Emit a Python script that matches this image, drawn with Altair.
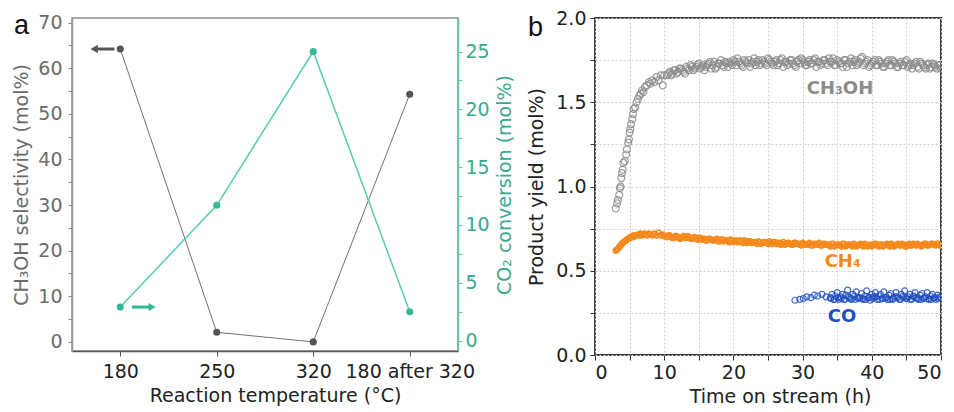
import json
import altair as alt
import pandas as pd

# ---------------- data: panel a ----------------
TEMPS = ["180", "250", "320", "180 after 320"]
SELECTIVITY = [64.2, 2.1, 0.0, 54.3]      # CH3OH selectivity (mol%)
CONVERSION = [2.9, 11.7, 25.0, 2.5]       # CO2 conversion (mol%)

# ---------------- data: panel b ----------------
T_EARLY = [3.0, 3.2, 3.3, 3.5, 3.6, 3.7, 3.8, 3.9, 4.0, 4.1, 4.3, 4.5, 4.6, 4.8, 4.9,
           5.0, 5.1, 5.2, 5.4, 5.5, 5.6, 5.8, 6.0, 6.2, 6.4, 6.6, 6.8, 7.0, 7.2, 7.5,
           7.8, 8.0, 8.3, 8.6, 8.9, 9.2, 9.5, 9.8, 10.0]
T_LATE = [10.4, 10.8, 11.2, 11.6, 12.0, 12.4, 12.8, 13.2, 13.6, 14.0, 14.4, 14.8, 15.2,
          15.6, 16.0, 16.4, 16.8, 17.2, 17.6, 18.0, 18.4, 18.8, 19.2, 19.6, 20.0, 20.4,
          20.8, 21.2, 21.6, 22.0, 22.4, 22.8, 23.2, 23.6, 24.0, 24.4, 24.8, 25.2, 25.6,
          26.0, 26.4, 26.8, 27.2, 27.6, 28.0, 28.4, 28.8, 29.2, 29.6, 30.0, 30.4, 30.8,
          31.2, 31.6, 32.0, 32.4, 32.8, 33.2, 33.6, 34.0, 34.4, 34.8, 35.2, 35.6, 36.0,
          36.4, 36.8, 37.2, 37.6, 38.0, 38.4, 38.8, 39.2, 39.6, 40.0, 40.4, 40.8, 41.2,
          41.6, 42.0, 42.4, 42.8, 43.2, 43.6, 44.0, 44.4, 44.8, 45.2, 45.6, 46.0, 46.4,
          46.8, 47.2, 47.6, 48.0, 48.4, 48.8, 49.2, 49.6, 50.0]
T_LATE2 = [10.6, 11.0, 11.4, 11.8, 12.2, 12.6, 13.0, 13.4, 13.8, 14.2,
           14.6, 15.0, 15.4, 15.8, 16.2, 16.6, 17.0, 17.4, 17.8, 18.2,
           18.6, 19.0, 19.4, 19.8, 20.2, 20.6, 21.0, 21.4, 21.8, 22.2,
           22.6, 23.0, 23.4, 23.8, 24.2, 24.6, 25.0, 25.4, 25.8, 26.2,
           26.6, 27.0, 27.4, 27.8, 28.2, 28.6, 29.0, 29.4, 29.8, 30.2,
           30.6, 31.0, 31.4, 31.8, 32.2, 32.6, 33.0, 33.4, 33.8, 34.2,
           34.6, 35.0, 35.4, 35.8, 36.2, 36.6, 37.0, 37.4, 37.8, 38.2,
           38.6, 39.0, 39.4, 39.8, 40.2, 40.6, 41.0, 41.4, 41.8, 42.2,
           42.6, 43.0, 43.4, 43.8, 44.2, 44.6, 45.0, 45.4, 45.8, 46.2,
           46.6, 47.0, 47.4, 47.8, 48.2, 48.6, 49.0, 49.4, 49.8]

CH3OH_EARLY = [0.87, 0.90, 0.92, 0.95, 0.99, 1.00, 1.05, 1.08, 1.10, 1.14, 1.15, 1.19, 1.22,
               1.26, 1.28, 1.32, 1.34, 1.37, 1.40, 1.43, 1.46, 1.47, 1.50, 1.52, 1.54, 1.55,
               1.57, 1.56, 1.59, 1.60, 1.62, 1.61, 1.63, 1.62, 1.65, 1.63, 1.66, 1.60, 1.66]
CH3OH_LATE = [1.66, 1.68, 1.67, 1.69, 1.68, 1.70, 1.68, 1.71, 1.69, 1.71, 1.70, 1.72, 1.70,
              1.72, 1.71, 1.73, 1.70, 1.74, 1.71, 1.73, 1.72, 1.74, 1.71, 1.73, 1.75, 1.72,
              1.74, 1.72, 1.75, 1.73, 1.71, 1.74, 1.72, 1.75, 1.73, 1.74, 1.72, 1.75, 1.73,
              1.74, 1.72, 1.75, 1.71, 1.74, 1.73, 1.75, 1.72, 1.74, 1.73, 1.75, 1.72, 1.74,
              1.73, 1.75, 1.71, 1.74, 1.73, 1.75, 1.72, 1.74, 1.76, 1.72, 1.74, 1.73, 1.75,
              1.71, 1.74, 1.72, 1.75, 1.73, 1.76, 1.72, 1.74, 1.71, 1.73, 1.75, 1.72, 1.74,
              1.71, 1.73, 1.75, 1.72, 1.74, 1.71, 1.73, 1.72, 1.74, 1.71, 1.73, 1.72, 1.74,
              1.70, 1.73, 1.71, 1.72, 1.70, 1.73, 1.71, 1.72, 1.70]
CH3OH_LATE2 = [1.67, 1.66, 1.69, 1.67, 1.70, 1.69, 1.67, 1.70, 1.72, 1.69,
               1.71, 1.73, 1.71, 1.69, 1.72, 1.74, 1.72, 1.70, 1.73, 1.75,
               1.71, 1.73, 1.74, 1.72, 1.74, 1.76, 1.73, 1.71, 1.74, 1.75,
               1.73, 1.76, 1.74, 1.72, 1.75, 1.73, 1.76, 1.74, 1.72, 1.75,
               1.73, 1.76, 1.74, 1.72, 1.75, 1.73, 1.71, 1.75, 1.76, 1.74,
               1.72, 1.75, 1.73, 1.76, 1.74, 1.72, 1.75, 1.73, 1.76, 1.74,
               1.72, 1.75, 1.73, 1.71, 1.75, 1.73, 1.76, 1.74, 1.72, 1.74,
               1.77, 1.73, 1.75, 1.72, 1.74, 1.72, 1.75, 1.73, 1.71, 1.74,
               1.72, 1.75, 1.73, 1.71, 1.74, 1.72, 1.75, 1.72, 1.70, 1.73,
               1.71, 1.74, 1.72, 1.70, 1.73, 1.71, 1.72, 1.70, 1.72]

CH4_EARLY = [0.62, 0.625, 0.63, 0.64, 0.645, 0.65, 0.655, 0.66, 0.665, 0.67, 0.675, 0.68,
             0.685, 0.69, 0.69, 0.695, 0.70, 0.70, 0.705, 0.70, 0.71, 0.705, 0.71, 0.715,
             0.71, 0.72, 0.71, 0.715, 0.72, 0.71, 0.72, 0.715, 0.71, 0.72, 0.71, 0.725,
             0.71, 0.715, 0.705]
CH4_LATE = [0.70, 0.71, 0.695, 0.705, 0.70, 0.69, 0.705, 0.695, 0.70, 0.69, 0.70, 0.685,
            0.695, 0.69, 0.68, 0.69, 0.685, 0.68, 0.69, 0.675, 0.685, 0.68, 0.675, 0.685,
            0.67, 0.68, 0.675, 0.67, 0.68, 0.665, 0.675, 0.67, 0.665, 0.675, 0.66, 0.67,
            0.665, 0.675, 0.66, 0.67, 0.665, 0.655, 0.67, 0.66, 0.665, 0.655, 0.665, 0.66,
            0.655, 0.665, 0.655, 0.66, 0.65, 0.66, 0.655, 0.665, 0.65, 0.66, 0.655, 0.645,
            0.66, 0.65, 0.655, 0.645, 0.66, 0.65, 0.655, 0.645, 0.655, 0.65, 0.66, 0.645,
            0.655, 0.65, 0.645, 0.66, 0.65, 0.655, 0.645, 0.655, 0.65, 0.66, 0.645, 0.655,
            0.65, 0.66, 0.645, 0.655, 0.65, 0.66, 0.65, 0.655, 0.645, 0.66, 0.65, 0.655,
            0.66, 0.65, 0.66, 0.655]
CH4_LATE2 = [0.71, 0.70, 0.695, 0.705, 0.69, 0.70, 0.695, 0.705, 0.69, 0.695,
             0.69, 0.695, 0.685, 0.69, 0.68, 0.69, 0.68, 0.685, 0.675, 0.685,
             0.675, 0.68, 0.67, 0.68, 0.675, 0.67, 0.68, 0.665, 0.67, 0.675,
             0.665, 0.67, 0.66, 0.67, 0.665, 0.67, 0.66, 0.665, 0.67, 0.66,
             0.665, 0.66, 0.655, 0.665, 0.66, 0.655, 0.665, 0.66, 0.65, 0.66,
             0.655, 0.665, 0.65, 0.66, 0.655, 0.65, 0.66, 0.655, 0.65, 0.66,
             0.645, 0.655, 0.65, 0.66, 0.645, 0.655, 0.65, 0.66, 0.645, 0.655,
             0.65, 0.66, 0.645, 0.655, 0.65, 0.66, 0.645, 0.655, 0.65, 0.66,
             0.645, 0.655, 0.65, 0.66, 0.65, 0.655, 0.645, 0.66, 0.65, 0.655,
             0.66, 0.65, 0.655, 0.66, 0.65, 0.66, 0.655, 0.66, 0.65]

T_CO = [28.9, 29.6, 30.1, 30.6, 31.2, 31.7, 32.2, 32.8, 33.4,
        34.0, 34.25, 34.5, 34.75, 35.0, 35.25, 35.5, 35.75, 36.0, 36.25, 36.5, 36.75,
        37.0, 37.25, 37.5, 37.75, 38.0, 38.25, 38.5, 38.75, 39.0, 39.25, 39.5, 39.75,
        40.0, 40.25, 40.5, 40.75, 41.0, 41.25, 41.5, 41.75, 42.0, 42.25, 42.5, 42.75,
        43.0, 43.25, 43.5, 43.75, 44.0, 44.25, 44.5, 44.75, 45.0, 45.25, 45.5, 45.75,
        46.0, 46.25, 46.5, 46.75, 47.0, 47.25, 47.5, 47.75, 48.0, 48.25, 48.5, 48.75,
        49.0, 49.25, 49.5, 49.75, 50.0]
CO = [0.325, 0.33, 0.335, 0.345, 0.34, 0.355, 0.35, 0.36, 0.345,
      0.34, 0.36, 0.33, 0.35, 0.37, 0.33, 0.345, 0.36, 0.33, 0.355,
      0.385, 0.34, 0.33, 0.36, 0.35, 0.375, 0.335, 0.34, 0.365, 0.33,
      0.35, 0.38, 0.34, 0.325, 0.36, 0.345, 0.37, 0.33, 0.35, 0.36,
      0.335, 0.375, 0.34, 0.33, 0.355, 0.365, 0.33, 0.345, 0.37, 0.34,
      0.33, 0.36, 0.35, 0.38, 0.335, 0.345, 0.36, 0.33, 0.35, 0.37,
      0.34, 0.33, 0.355, 0.365, 0.335, 0.345, 0.37, 0.33, 0.35, 0.36,
      0.34, 0.33, 0.355, 0.345, 0.34]
T_CO2 = [34.1, 34.6, 35.1, 35.6, 36.1, 36.6, 37.1, 37.6, 38.1, 38.6, 39.1, 39.6, 40.1,
         40.6, 41.1, 41.6, 42.1, 42.6, 43.1, 43.6, 44.1, 44.6, 45.1, 45.6, 46.1, 46.6,
         47.1, 47.6, 48.1, 48.6, 49.1, 49.6]
CO2 = [0.335, 0.33, 0.34, 0.335, 0.33, 0.345, 0.335, 0.33, 0.34, 0.335,
       0.33, 0.34, 0.335, 0.345, 0.33, 0.335, 0.34, 0.33, 0.335, 0.345,
       0.33, 0.34, 0.335, 0.33, 0.345, 0.335, 0.33, 0.34, 0.335, 0.33,
       0.34, 0.335]

SERIES_LABELS = ["CH₃OH", "CH₄", "CO"]

# ---------------- styling ----------------
FONT = "DejaVu Sans"
LAB_FS = 19
TIT_FS = 19
GRAY_DOT = "#555555"
GRAY_LINE = "#707070"
GRAY_TXT = "#6b6b6b"
TEAL = "#34b894"
TEAL_LINE = "#55cdae"
TEAL_TXT = "#3aa98b"
C_MEOH = "#8c8c8c"
C_CH4 = "#f5891c"
C_CO = "#2350c0"

T_MAIN = T_EARLY + T_LATE + T_LATE2
MEOH_ALL = CH3OH_EARLY + CH3OH_LATE + CH3OH_LATE2
CH4_ALL = CH4_EARLY + CH4_LATE + CH4_LATE2
assert len(T_MAIN) == len(MEOH_ALL) == len(CH4_ALL), (len(T_MAIN), len(MEOH_ALL), len(CH4_ALL))
assert len(T_CO) == len(CO) and len(T_CO2) == len(CO2)

# ================= panel a =================
dfa = pd.DataFrame({"idx": list(range(len(TEMPS))), "sel": SELECTIVITY, "conv": CONVERSION})

lab_expr = json.dumps(TEMPS) + "[datum.value]"
x_a_axis = alt.Axis(values=list(range(len(TEMPS))), labelExpr=lab_expr,
                    title="Reaction temperature (°C)", grid=False, titleX=203,
                    domainColor="#555555", domainWidth=1.5, tickColor="#555555",
                    tickSize=5, labelColor="#222222", titleColor="#222222",
                    labelFontSize=LAB_FS, titleFontSize=TIT_FS, labelPadding=6, titlePadding=5,
                    labelFont=FONT, titleFont=FONT, titleFontWeight="normal")
x_a_scale = alt.Scale(domain=[-0.5, 3.5], nice=False, zero=False)

sel_scale = alt.Scale(domain=[-2, 71], nice=False, zero=False)
sel_axis = alt.Axis(values=list(range(0, 71, 5)),
                    labelExpr="datum.value % 10 == 0 ? datum.label : ''",
                    title="CH₃OH selectivity (mol%)", grid=False,
                    domainColor="#9a9a9a", domainWidth=1.5, tickColor="#8a8a8a", tickSize=4,
                    labelColor=GRAY_TXT, titleColor=GRAY_TXT, labelFontSize=LAB_FS,
                    titleFontSize=TIT_FS, labelPadding=6, titlePadding=6,
                    labelFont=FONT, titleFont=FONT, titleFontWeight="normal")

conv_scale = alt.Scale(domain=[-0.9, 27.9], nice=False, zero=False)
conv_axis = alt.Axis(orient="right", values=[0, 2.5, 5, 7.5, 10, 12.5, 15, 17.5, 20, 22.5, 25],
                     labelExpr="datum.value % 5 == 0 ? datum.label : ''",
                     title="CO₂ conversion (mol%)", grid=False, titleAngle=270,
                     titleBaseline="top",
                     domainColor=TEAL_LINE, domainWidth=1.5, tickColor=TEAL_LINE, tickSize=4,
                     labelColor=TEAL_TXT, titleColor=TEAL_TXT, labelFontSize=LAB_FS,
                     titleFontSize=TIT_FS, labelPadding=3, titlePadding=6,
                     labelFont=FONT, titleFont=FONT, titleFontWeight="normal")

xa = alt.X("idx:Q", scale=x_a_scale, axis=x_a_axis)
xa2 = alt.X2("idx2:Q")
y_sel = alt.Y("sel:Q", scale=sel_scale, axis=sel_axis)
y_conv = alt.Y("conv:Q", scale=conv_scale, axis=conv_axis)

base_a = alt.Chart(dfa)
gray_line = base_a.mark_line(color=GRAY_LINE, strokeWidth=1).encode(x=xa, y=y_sel)
gray_pts = base_a.mark_circle(color=GRAY_DOT, size=50, opacity=1).encode(x=xa, y=y_sel)

# direction arrows (annotations)
arrow_gray = pd.DataFrame({"idx": [-0.25], "idx2": [-0.06], "sel": [SELECTIVITY[0]]})
arrow_gray_head = pd.DataFrame({"idx": [-0.27], "sel": [SELECTIVITY[0]]})
arrow_teal = pd.DataFrame({"idx": [0.12], "idx2": [0.31], "conv": [CONVERSION[0]]})
arrow_teal_head = pd.DataFrame({"idx": [0.33], "conv": [CONVERSION[0]]})

ag_rule = alt.Chart(arrow_gray).mark_rule(color=GRAY_DOT, strokeWidth=3).encode(x=xa, x2=xa2, y=y_sel)
ag_head = alt.Chart(arrow_gray_head).mark_point(shape="triangle-left", filled=True, size=70,
                                                color=GRAY_DOT, opacity=1).encode(x=xa, y=y_sel)

panel_label_a = alt.Chart(pd.DataFrame({"t": ["a"]})).mark_text(
    font="Liberation Sans", fontSize=27, align="left", baseline="alphabetic", color="#111111"
).encode(text="t:N", x=alt.value(-58), y=alt.value(16))

gray_layer = alt.layer(gray_line, gray_pts, ag_rule, ag_head, panel_label_a)

teal_line = base_a.mark_line(color=TEAL_LINE, strokeWidth=1.5).encode(x=xa, y=y_conv)
teal_pts = base_a.mark_circle(color=TEAL, size=50, opacity=1).encode(x=xa, y=y_conv)
at_rule = alt.Chart(arrow_teal).mark_rule(color=TEAL, strokeWidth=3).encode(x=xa, x2=xa2, y=y_conv)
at_head = alt.Chart(arrow_teal_head).mark_point(shape="triangle-right", filled=True, size=70,
                                                color=TEAL, opacity=1).encode(x=xa, y=y_conv)
teal_layer = alt.layer(teal_line, teal_pts, at_rule, at_head)

panel_a = alt.layer(gray_layer, teal_layer).resolve_scale(y="independent").properties(
    width=386, height=333,
    view=alt.ViewBackground(stroke="#8c8c8c", strokeWidth=1.5),
)

# ================= panel b =================
df_meoh = pd.DataFrame({"t": T_MAIN, "v": MEOH_ALL})
df_ch4 = pd.DataFrame({"t": T_MAIN, "v": CH4_ALL})
df_co = pd.DataFrame({"t": T_CO + T_CO2, "v": CO + CO2})
df_lab = pd.DataFrame({"t": [35.4, 35.8, 35.7], "v": [1.58, 0.55, 0.225],
                       "lab": SERIES_LABELS})

xb = alt.X("t:Q", scale=alt.Scale(domain=[0, 50], nice=False),
           axis=alt.Axis(values=list(range(0, 51, 5)),
                         labelExpr="datum.value % 10 == 0 ? datum.label : ''",
                         title="Time on stream (h)", grid=True, gridDash=[2, 2], titleX=185,
                         gridColor="#cfcfcf", gridWidth=1, domain=False,
                         tickColor="#333333", tickSize=5, labelColor="#222222",
                         titleColor="#222222", labelFontSize=LAB_FS, titleFontSize=TIT_FS,
                         labelPadding=3, titlePadding=5, labelFont=FONT, titleFont=FONT,
                         titleFontWeight="normal"))
yb = alt.Y("v:Q", scale=alt.Scale(domain=[0, 2], nice=False),
           axis=alt.Axis(values=[0, 0.25, 0.5, 0.75, 1.0, 1.25, 1.5, 1.75, 2.0],
                         labelExpr="datum.value % 0.5 == 0 ? format(datum.value, '.1f') : ''",
                         title="Product yield (mol%)", grid=True, gridDash=[2, 2],
                         gridColor="#cfcfcf", gridWidth=1, domain=False,
                         tickColor="#333333", tickSize=5, labelColor="#222222",
                         titleColor="#222222", labelFontSize=LAB_FS, titleFontSize=TIT_FS,
                         labelPadding=4, titlePadding=9, labelFont=FONT, titleFont=FONT,
                         titleFontWeight="normal"))

meoh = alt.Chart(df_meoh).mark_point(shape="circle", filled=False, size=48, strokeWidth=1.2,
                                     color=C_MEOH, opacity=0.85, clip=True).encode(x=xb, y=yb)
ch4 = alt.Chart(df_ch4).mark_point(shape="circle", filled=False, size=26, strokeWidth=1.6,
                                   color=C_CH4, opacity=1, clip=True).encode(x=xb, y=yb)
co = alt.Chart(df_co).mark_point(shape="circle", filled=False, size=36, strokeWidth=1.2,
                                 color=C_CO, opacity=0.85, clip=True).encode(x=xb, y=yb)
labels = alt.Chart(df_lab).mark_text(font=FONT, fontSize=18, fontWeight="bold").encode(
    x=xb, y=yb, text="lab:N",
    color=alt.Color("lab:N", scale=alt.Scale(domain=SERIES_LABELS, range=[C_MEOH, C_CH4, C_CO]),
                    legend=None))

panel_label_b = alt.Chart(pd.DataFrame({"t": ["b"]})).mark_text(
    font="Liberation Sans", fontSize=27, align="left", baseline="alphabetic", color="#111111"
).encode(text="t:N", x=alt.value(-67), y=alt.value(18))

panel_b = alt.layer(meoh, ch4, co, labels, panel_label_b).properties(
    width=346, height=337,
    view=alt.ViewBackground(stroke="#3c3c3c", strokeWidth=2),
)

chart = alt.hconcat(panel_a, panel_b, spacing=11).properties(
    padding={"left": 4, "top": 0, "right": 0, "bottom": 0}
).configure(font=FONT).configure_view(stroke=None)

chart.save("out.html", embed_options={"renderer": "svg", "actions": False})
